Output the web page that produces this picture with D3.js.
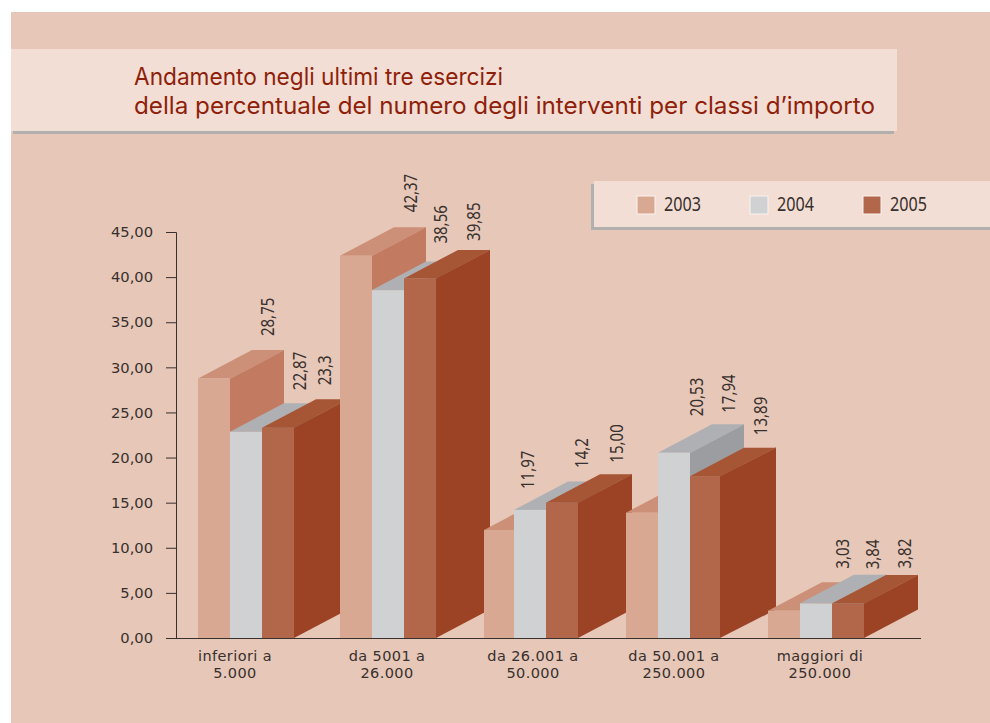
<!DOCTYPE html>
<html>
<head>
<meta charset="utf-8">
<script src="https://cdn.jsdelivr.net/npm/d3@7"></script>
<style>
    html, body { margin: 0; padding: 0; background: #fff; }
    svg { display: block; }
</style>
</head>
<body>
<svg id="chart" width="990" height="723"></svg>
<script>
"use strict"

const categories = [["inferiori a", "5.000"], ["da 5001 a", "26.000"], ["da 26.001 a", "50.000"], ["da 50.001 a", "250.000"], ["maggiori di", "250.000"]];
const years = ["2003", "2004", "2005"];
const values_2003 = [28.75, 42.37, 11.97, 13.89, 3.03];
const values_2004 = [22.87, 38.56, 14.2, 20.53, 3.84];
const values_2005 = [23.3, 39.85, 15.0, 17.94, 3.82];
// Printed labels, as they stand in the picture (the fourth group is not in bar order).
const labels_a = ["28,75", "42,37", "11,97", "20,53", "3,03"];
const labels_b = ["22,87", "38,56", "14,2", "17,94", "3,84"];
const labels_c = ["23,3", "39,85", "15,00", "13,89", "3,82"];
const y_ticks = [0, 5, 10, 15, 20, 25, 30, 35, 40, 45];
const title_lines = ["Andamento negli ultimi tre esercizi", "della percentuale del numero degli interventi per classi d\u2019importo"];

const series = [values_2003, values_2004, values_2005];
const label_rows = [labels_a, labels_b, labels_c];

const colors = {
    front: ["#d8a892", "#d0d1d3", "#b3674a"],
    top: ["#cc8f77", "#afb0b3", "#a65535"],
    side: ["#c27b60", "#9c9da0", "#9c4225"]
};
const depth = {x: 54, y: 28.5};
const text_color = "#38302d";
const bar_font = "'Noto Sans', sans-serif";
const title_font = "Inter, 'Noto Sans', sans-serif";
const axis_font = "'DejaVu Sans', sans-serif";

let svg = d3.select("#chart");

let x_group = d3.scaleOrdinal().domain(d3.range(categories.length)).range([198, 340, 482, 626, 768]);
let x_bar = d3.scaleBand().domain(d3.range(years.length)).range([0, 96]);
let y = d3.scaleLinear().domain([0, 45]).range([638, 232]);

// Backgrounds.
svg.append("rect").attr("x", 11).attr("y", 12).attr("width", 979).attr("height", 711).attr("fill", "#e6c7b8");

svg.append("rect").attr("x", 13).attr("y", 131).attr("width", 881).attr("height", 3).attr("fill", "#b2b0af");
svg.append("rect").attr("x", 11).attr("y", 49).attr("width", 886).attr("height", 82).attr("fill", "#f2ded4");

svg.append("rect").attr("x", 591).attr("y", 184).attr("width", 399).attr("height", 46).attr("fill", "#b2b0af");
svg.append("rect").attr("x", 594).attr("y", 181).attr("width", 396).attr("height", 46).attr("fill", "#f2ded4");

// Title.
svg.selectAll(".title_line").data(title_lines).enter().append("text")
    .attr("class", "title_line")
    .attr("x", 134)
    .attr("y", (d, i) => 85 + i * 29)
    .attr("textLength", (d, i) => i == 0 ? 369 : 741)
    .attr("lengthAdjust", "spacingAndGlyphs")
    .style("font-family", title_font)
    .style("font-size", "23.9px")
    .style("fill", "#8f1f0b")
    .text(d => d);

// Legend.
let legend = svg.selectAll(".legend_item").data(years).enter().append("g")
    .attr("class", "legend_item")
    .attr("transform", (d, i) => "translate(" + (637 + i * 113) + ",196)");
legend.append("rect")
    .attr("width", 18).attr("height", 18)
    .attr("fill", (d, i) => colors.front[i])
    .attr("stroke", "#fbf3ee");
legend.append("text")
    .attr("x", 27).attr("y", 15)
    .attr("textLength", 37)
    .attr("lengthAdjust", "spacingAndGlyphs")
    .style("font-family", bar_font)
    .style("font-size", "19px")
    .style("fill", text_color)
    .text(d => d);

// Bars, painted left to right so each one hides the side of the previous.
let bars = [];
categories.forEach((c, g) => {
    years.forEach((yr, s) => {
        bars.push({group: g, s: s, value: series[s][g]});
    });
});

let bar = svg.selectAll(".bar").data(bars).enter().append("g").attr("class", "bar");

// Two bars are a little narrower in the source: the first of the third group and the last of the fourth.
function bar_left(d) { return x_group(d.group) + x_bar(d.s) + (d.group == 2 && d.s == 0 ? 2 : 0); }
function bar_right(d) { return x_group(d.group) + x_bar(d.s) + x_bar.bandwidth() - (d.group == 3 && d.s == 2 ? 2 : 0); }
function bar_back(d) { return x_group(d.group) + x_bar(d.s) + x_bar.bandwidth() + depth.x; }

bar.append("path")
    .attr("d", d => {
        let r = bar_right(d), t = y(d.value), b = y(0), k = bar_back(d);
        return d3.line()([[r, t], [k, t - depth.y], [k, b - depth.y], [r, b]]) + "Z";
    })
    .attr("fill", d => colors.side[d.s]);
bar.append("path")
    .attr("d", d => {
        let l = bar_left(d), r = bar_right(d), t = y(d.value), k = bar_back(d);
        return d3.line()([[l, t], [l + depth.x, t - depth.y], [k, t - depth.y], [r, t]]) + "Z";
    })
    .attr("fill", d => colors.top[d.s]);
bar.append("rect")
    .attr("x", bar_left)
    .attr("y", d => y(d.value))
    .attr("width", d => bar_right(d) - bar_left(d))
    .attr("height", d => y(0) - y(d.value))
    .attr("fill", d => colors.front[d.s]);
// The thin light edge between the top and the side.
bar.append("line")
    .attr("x1", bar_right)
    .attr("y1", d => y(d.value))
    .attr("x2", bar_back)
    .attr("y2", d => y(d.value) - depth.y)
    .attr("stroke", d => colors.top[d.s])
    .attr("stroke-width", 0.7);

// Value labels were placed by hand in the source, so each has its own nudge: [dx from bar left, gap above back edge].
const label_nudge = [
    [[70, 14], [70, 13], [63, 14]],
    [[71, 15], [69, 18], [70, 9]],
    [[46, 12.5], [68, 13.5], [71, 11.5]],
    [[71, 68], [71, 11.5], [71, 12.5]],
    [[75, 13.5], [73, 5.5], [73, 6.5]]
];

svg.selectAll(".bar_value").data(bars).enter().append("text")
    .attr("class", "bar_value")
    .attr("transform", d => {
        let n = label_nudge[d.group][d.s];
        let lx = x_group(d.group) + x_bar(d.s) + n[0] + 6;
        let ly = y(d.value) - depth.y - n[1];
        return "translate(" + lx + "," + ly + ") rotate(-90) scale(0.86,1)";
    })
    .style("font-family", bar_font)
    .style("font-size", "17.5px")
    .style("fill", text_color)
    .text(d => label_rows[d.s][d.group]);

// Axes.
let y_axis = d3.axisLeft(y)
    .tickValues(y_ticks)
    .tickSize(10)
    .tickPadding(13)
    .tickFormat(d => d3.format(".2f")(d).replace(".", ","));
let y_g = svg.append("g").attr("transform", "translate(176,0)").call(y_axis);
y_g.select(".domain").attr("stroke", text_color);
y_g.selectAll("line").attr("stroke", text_color);
y_g.selectAll("text").style("font-family", axis_font).style("font-size", "14.7px").style("fill", text_color);

svg.append("line")
    .attr("x1", 166).attr("x2", 921)
    .attr("y1", y(0) + 0.5).attr("y2", y(0) + 0.5)
    .attr("stroke", text_color);

// Category labels, hand centred under each group in the source.
const category_nudge = [37, 47, 51, 48, 52];
let cat = svg.selectAll(".category").data(categories).enter().append("text")
    .attr("class", "category")
    .attr("text-anchor", "middle")
    .style("font-family", axis_font)
    .style("font-size", "14.5px")
    .style("letter-spacing", "0.4px")
    .style("fill", text_color);
cat.selectAll("tspan").data((d, g) => d.map(t => ({t: t, g: g}))).enter().append("tspan")
    .attr("x", d => x_group(d.g) + category_nudge[d.g])
    .attr("y", (d, i) => 660.5 + i * 17)
    .text(d => d.t);
</script>
</body>
</html>
